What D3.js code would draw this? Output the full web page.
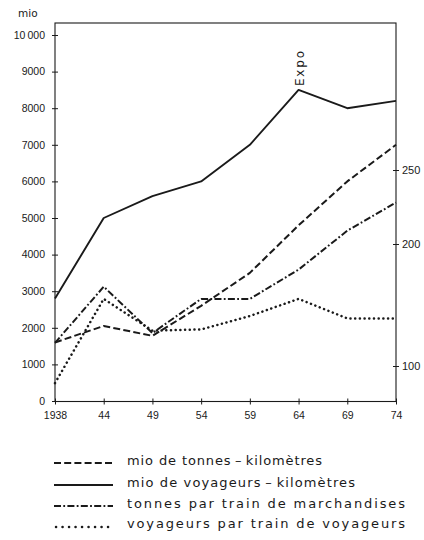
<!DOCTYPE html>
<html>
<head>
<meta charset="utf-8">
<script src="https://cdn.jsdelivr.net/npm/d3@7"></script>
<style>
  html, body { margin: 0; padding: 0; background: #ffffff; }
  svg { display: block; font-family: "DejaVu Sans", sans-serif; }
</style>
</head>
<body>
<svg id="chart" width="424" height="540"></svg>
<script>
// ---- data ----
const years = ["1938", "44", "49", "54", "59", "64", "69", "74"];
// left axis (mio)
const tonnesKm    = [1600, 2050, 1780, 2600, 3500, 4800, 6000, 7000];
const voyageursKm = [2800, 5000, 5600, 6000, 7000, 8500, 8000, 8200];
// right axis
const tonnesTrain    = [119, 165, 127, 155, 155, 179, 209, 228];
const voyageursTrain = [86, 155, 129, 130, 141, 155, 139, 139];

const leftTicks = [0, 1000, 2000, 3000, 4000, 5000, 6000, 7000, 8000, 9000, 10000];
const leftTickLabels = ["0", "1000", "2000", "3000", "4000", "5000", "6000", "7000", "8000", "9000", "10\u2009000"];
const rightTicks = [100, 200, 250];
const rightDomain = [100, 200, 250];

const legendLabels = [
  "mio de tonnes\u2009–\u2009kilomètres",
  "mio de voyageurs\u2009–\u2009kilomètres",
  "tonnes par train de marchandises",
  "voyageurs par train de voyageurs"
];

// ---- layout ----
const svg = d3.select("#chart");
const L = 55, R = 396, T = 23, B = 401.5;
const ink = "#1a1a1a";

const x = d3.scalePoint().domain(years).range([L, R]);
const yL = d3.scaleLinear().domain([0, 10000]).range([401, 35]);
const yR = d3.scaleLinear().domain(rightDomain).range([366, 244, 170]);

// frame
svg.append("rect").attr("x", L).attr("y", T).attr("width", R - L).attr("height", B - T)
  .attr("fill", "none").attr("stroke", ink).attr("stroke-width", 1.1);

// left axis
const gL = svg.append("g").attr("transform", `translate(${L},0)`)
  .call(d3.axisLeft(yL).tickValues(leftTicks).tickSize(3).tickPadding(7)
    .tickFormat((d, i) => leftTickLabels[i]));
gL.select(".domain").remove();
gL.selectAll(".tick line").attr("x1", 3).attr("x2", -3).attr("stroke", ink);
gL.selectAll("text").attr("font-size", 10.5).attr("fill", ink);

// right axis
const gR = svg.append("g").attr("transform", `translate(${R},0)`)
  .call(d3.axisRight(yR).tickValues(rightTicks).tickSize(3).tickPadding(3));
gR.select(".domain").remove();
gR.selectAll(".tick line").attr("x1", -3).attr("x2", 3).attr("stroke", ink);
gR.selectAll("text").attr("font-size", 11).attr("fill", ink);

// bottom axis
const gB = svg.append("g").attr("transform", `translate(0,${B})`)
  .call(d3.axisBottom(x).tickSize(3).tickPadding(7));
gB.select(".domain").remove();
gB.selectAll(".tick line").attr("y1", -3).attr("y2", 3).attr("stroke", ink);
gB.selectAll("text").attr("font-size", 10.5).attr("fill", ink);

// unit label
svg.append("text").attr("x", 18).attr("y", 16.5).attr("font-size", 10.5).attr("fill", ink).text("mio");

// series
const styles = [
  { data: tonnesKm, y: yL, dash: "7,3.2", width: 2, cap: "butt" },
  { data: voyageursKm, y: yL, dash: null, width: 1.9, cap: "butt" },
  { data: tonnesTrain, y: yR, dash: "7,2.3,1.8,2.3", width: 2, cap: "butt" },
  { data: voyageursTrain, y: yR, dash: "0.1,4.6", width: 2.5, cap: "round" }
];

styles.forEach(s => {
  const line = d3.line().x((d, i) => x(years[i])).y(d => s.y(d));
  svg.append("path").datum(s.data).attr("d", line)
    .attr("fill", "none").attr("stroke", ink).attr("stroke-width", s.width)
    .attr("stroke-linejoin", "round").attr("stroke-linecap", s.cap)
    .attr("stroke-dasharray", s.dash);
});

// Expo annotation
svg.append("text")
  .attr("transform", `translate(${x("64") + 5},86) rotate(-90)`)
  .attr("font-size", 12).attr("fill", ink)
  .attr("textLength", 35).attr("lengthAdjust", "spacing")
  .text("Expo");

// legend
const legendBase = [465, 487, 508, 528];
const legendLineY = [463, 485, 506, 527];
const legendEnds = [322, 355, 405, 405];
const legendSamples = [
  { dash: "7,3.2", width: 2, cap: "butt", x1: 54, x2: 113 },
  { dash: null, width: 1.9, cap: "butt", x1: 54, x2: 113 },
  { dash: "7,2.3,1.8,2.3", width: 2, cap: "butt", x1: 54, x2: 113 },
  { dash: "0.1,6.4", width: 2.5, cap: "round", x1: 56, x2: 113 }
];
legendLabels.forEach((lab, i) => {
  const s = legendSamples[i];
  svg.append("line").attr("x1", s.x1).attr("x2", s.x2)
    .attr("y1", legendLineY[i]).attr("y2", legendLineY[i])
    .attr("stroke", ink).attr("stroke-width", s.width)
    .attr("stroke-linecap", s.cap).attr("stroke-dasharray", s.dash);
  svg.append("text").attr("x", 127).attr("y", legendBase[i])
    .attr("font-size", 13).attr("fill", ink)
    .attr("textLength", legendEnds[i] - 127).attr("lengthAdjust", "spacing")
    .text(lab);
});
</script>
</body>
</html>
